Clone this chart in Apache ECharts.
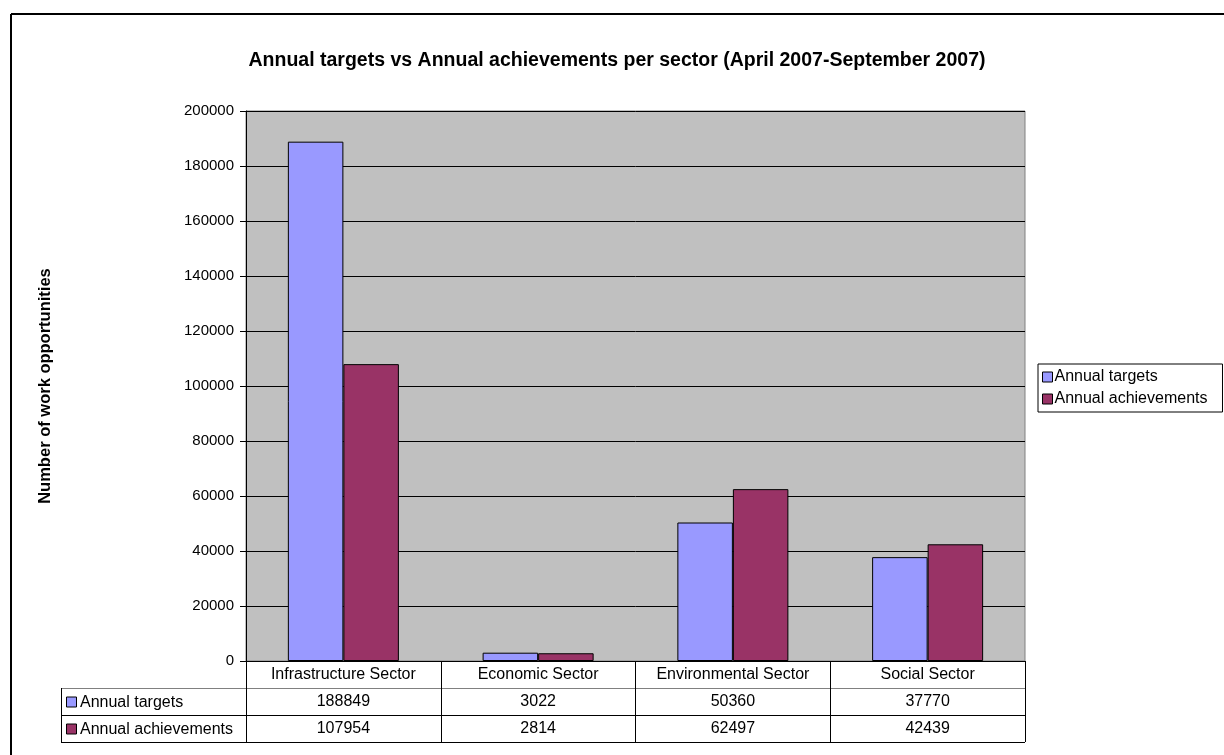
<!DOCTYPE html>
<html><head><meta charset="utf-8">
<script src="https://cdn.jsdelivr.net/npm/echarts@6/dist/echarts.min.js"></script>
<style>html,body{margin:0;padding:0;background:#fff}#c{width:1224px;height:755px}</style>
</head><body><div id="c"></div>
<script>
// ---- data ----
const chartTitle = 'Annual targets vs Annual achievements per sector (April 2007-September 2007)';
const yAxisTitle = 'Number of work opportunities';
const categories = ['Infrastructure Sector', 'Economic Sector', 'Environmental Sector', 'Social Sector'];
const seriesNames = ['Annual targets', 'Annual achievements'];
const annualTargets = [188849, 3022, 50360, 37770];
const annualAchievements = [107954, 2814, 62497, 42439];
const yMin = 0, yMax = 200000, yInterval = 20000;

// ---- styling / layout ----
const colors = ['#9999FF', '#993366'];
const FONT = '"Liberation Sans", Arial, sans-serif';
const W = 1224, H = 755;
const G = { left: 246, right: 199, top: 111, bottom: 94 };
const ROW = 27;
const plotBottom = H - G.bottom;
const plotRight = W - G.right;
const tableLeft = 61;

const seriesValues = [annualTargets, annualAchievements];

const chart = echarts.init(document.getElementById('c'), null, { renderer: 'canvas' });

const graphics = [];
// outer frame (cropped at right/bottom)
graphics.push({ type: 'line', shape: { x1: 11, y1: 14, x2: W, y2: 14 }, style: { stroke: '#000', lineWidth: 2 } });
graphics.push({ type: 'line', shape: { x1: 11, y1: 14, x2: 11, y2: H }, style: { stroke: '#000', lineWidth: 2 } });
// table horizontal lines
for (let k = 1; k <= 3; k++) {
  const y = plotBottom + ROW * k + 0.5;
  graphics.push({ type: 'line', shape: { x1: tableLeft, y1: y, x2: plotRight, y2: y },
    style: { stroke: k === 1 ? '#808080' : '#000', lineWidth: 1 } });
}
graphics.push({ type: 'line', shape: { x1: tableLeft + 0.5, y1: plotBottom + ROW, x2: tableLeft + 0.5, y2: plotBottom + ROW * 3 + 0.5 },
  style: { stroke: '#000', lineWidth: 1 } });
// left column legend keys + names
seriesNames.forEach((name, i) => {
  const cy = plotBottom + ROW * (i + 1) + ROW / 2 + 1;
  graphics.push({ type: 'rect', shape: { x: tableLeft + 5.5, y: cy - 5.5, width: 10, height: 10 },
    style: { fill: colors[i], stroke: '#000', lineWidth: 1 } });
  graphics.push({ type: 'text', x: tableLeft + 19, y: cy,
    style: { text: name, font: '16px ' + FONT, fill: '#000', textVerticalAlign: 'middle', textAlign: 'left' } });
});

const option = {
  animation: false,
  backgroundColor: '#fff',
  textStyle: { fontFamily: FONT },
  title: {
    text: chartTitle, left: 612, top: 46, textAlign: 'center',
    textStyle: { fontFamily: FONT, fontSize: 19.5, fontWeight: 'bold', color: '#000' }
  },
  legend: {
    orient: 'vertical', left: 1038, top: 364,
    data: seriesNames,
    itemWidth: 10, itemHeight: 10, itemGap: 6, icon: 'rect',
    borderColor: '#000', borderWidth: 1, padding: [5, 15, 5, 4],
    textStyle: { fontFamily: FONT, fontSize: 16, color: '#000', padding: [0, 0, 0, -3] },
    itemStyle: { borderColor: '#000', borderWidth: 1 }
  },
  grid: {
    left: G.left, right: G.right, top: G.top, bottom: G.bottom,
    show: true, backgroundColor: '#C0C0C0', borderColor: '#808080', borderWidth: 1,
    containLabel: false
  },
  xAxis: {
    type: 'category', data: categories,
    axisLine: { show: true, lineStyle: { color: '#000', width: 1 } },
    axisTick: { show: true, length: ROW * 3, inside: false, lineStyle: { color: '#000', width: 1 } },
    axisLabel: {
      interval: 0, margin: 0, verticalAlign: 'top',
      formatter: (v, idx) => '{h|' + v + '}\n{v|' + annualTargets[idx] + '}\n{v|' + annualAchievements[idx] + '}',
      rich: {
        h: { fontFamily: FONT, fontSize: 16, color: '#000', lineHeight: ROW, height: ROW },
        v: { fontFamily: FONT, fontSize: 16, color: '#000', lineHeight: ROW, height: ROW }
      }
    },
    splitLine: { show: false }
  },
  yAxis: {
    type: 'value', min: yMin, max: yMax, interval: yInterval,
    name: yAxisTitle, nameLocation: 'middle', nameRotate: 90, nameGap: 192,
    nameTextStyle: { fontFamily: FONT, fontSize: 16.5, fontWeight: 'bold', color: '#000' },
    axisLine: { show: true, lineStyle: { color: '#000', width: 1 } },
    axisTick: { show: true, length: 6, inside: false, lineStyle: { color: '#000' } },
    axisLabel: { fontFamily: FONT, fontSize: 15, color: '#000', margin: 12, formatter: v => String(v) },
    splitLine: { show: true, lineStyle: { color: '#000', width: 1 } }
  },
  series: seriesNames.map((name, i) => ({
    name, type: 'bar', data: seriesValues[i],
    barGap: '0%', barCategoryGap: '43%',
    itemStyle: { color: colors[i], borderColor: '#000', borderWidth: 1 }
  })),
  graphic: graphics
};
chart.setOption(option);
</script></body></html>
